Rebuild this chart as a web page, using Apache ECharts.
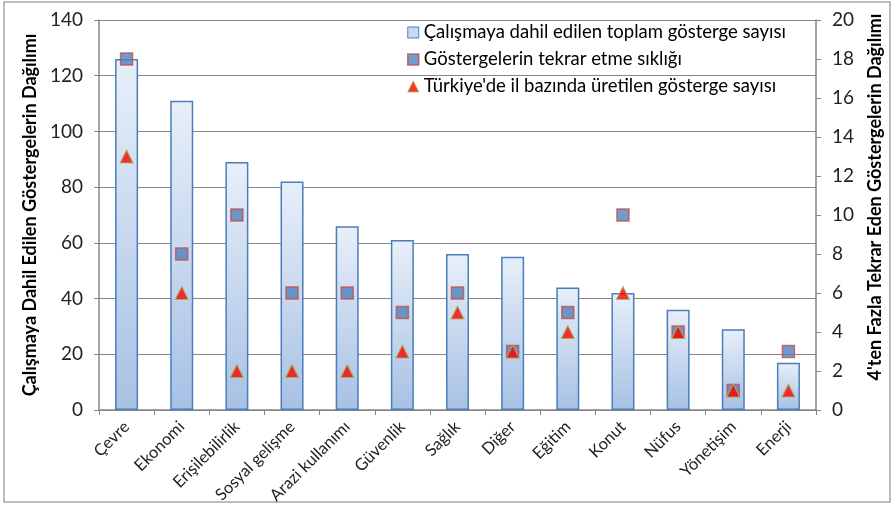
<!DOCTYPE html>
<html><head><meta charset="utf-8">
<script src="https://cdn.jsdelivr.net/npm/echarts@6/dist/echarts.min.js"></script>
<style>html,body{margin:0;padding:0;background:#fff}#c{width:896px;height:508px}</style>
</head><body><div id="c"></div>
<script>
const categories = ["Çevre","Ekonomi","Erişilebilirlik","Sosyal gelişme","Arazi kullanımı","Güvenlik","Sağlık","Diğer","Eğitim","Konut","Nüfus","Yönetişim","Enerji"];
const totalIndicators = [126,111,89,82,66,61,56,55,44,42,36,29,17];
const repeatFrequency = [18,8,10,6,6,5,6,3,5,10,4,1,3];
const provinceIndicators = [13,6,2,2,2,3,5,3,4,6,4,1,1];
const leftTicks = {min:0,max:140,interval:20};
const rightTicks = {min:0,max:20,interval:2};
const seriesNames = ["Çalışmaya dahil edilen toplam gösterge sayısı","Göstergelerin tekrar etme sıklığı","Türkiye'de il bazında üretilen gösterge sayısı"];

const font = 'Lato, "Open Sans", sans-serif';
const chart = echarts.init(document.getElementById('c'), null, {renderer:'canvas'});
chart.setOption({
  animation:false,
  textStyle:{fontFamily:font},
  graphic:[{type:'rect',shape:{x:4,y:2,width:886,height:500},style:{fill:null,stroke:'#a6a6a6',lineWidth:1.5},z:-10}],
  grid:{left:99,right:80,top:20,bottom:98,outerBoundsMode:'none',containLabel:false},
  legend:{
    orient:'vertical', left:407, top:23, itemGap:8, itemWidth:11, itemHeight:11,
    padding:0,
    textStyle:{fontFamily:font,fontSize:18.5,color:'#000'},
    data:[
      {name:seriesNames[0],icon:'rect',itemStyle:{color:'#c6d9f1',borderColor:'#4f81bd',borderWidth:1}},
      {name:seriesNames[1],icon:'rect',itemStyle:{color:'#4f81bd',borderColor:'#c0504d',borderWidth:1.5}},
      {name:seriesNames[2],icon:'triangle',itemStyle:{color:'#ff0000',borderColor:'#9bbb59',borderWidth:1}}
    ]
  },
  xAxis:{
    type:'category', data:categories, boundaryGap:true,
    axisLine:{lineStyle:{color:'#868686',width:1.5}},
    axisTick:{show:true,alignWithLabel:false,length:5,lineStyle:{color:'#868686'}},
    axisLabel:{rotate:45,fontSize:16.5,color:'#222',fontFamily:font,interval:0,margin:14}
  },
  yAxis:[
    {type:'value',min:leftTicks.min,max:leftTicks.max,interval:leftTicks.interval,
     name:'Çalışmaya Dahil Edilen Göstergelerin Dağılımı',nameLocation:'middle',nameGap:53,
     nameTextStyle:{fontFamily:font,fontSize:18,fontWeight:'bold',color:'#000'},
     axisLine:{show:true,lineStyle:{color:'#868686',width:1.5}},
     axisTick:{show:true,length:5,lineStyle:{color:'#868686'}},
     axisLabel:{fontSize:19,color:'#222',fontFamily:font,margin:16},
     splitLine:{show:true,lineStyle:{color:'#868686',width:1.2}}},
    {type:'value',min:rightTicks.min,max:rightTicks.max,interval:rightTicks.interval,position:'right',
     name:"4'ten Fazla Tekrar Eden Göstergelerin Dağılımı",nameLocation:'middle',nameGap:50,
     nameTextStyle:{fontFamily:font,fontSize:18,fontWeight:'bold',color:'#000',padding:[0,0,0,36]},
     axisLine:{show:true,lineStyle:{color:'#868686',width:1.5}},
     axisTick:{show:true,length:5,lineStyle:{color:'#868686'}},
     axisLabel:{fontSize:19,color:'#222',fontFamily:font,margin:16},
     splitLine:{show:false}}
  ],
  series:[
    {name:seriesNames[0],type:'bar',data:totalIndicators,yAxisIndex:0,barWidth:23,
     itemStyle:{borderColor:'#4a7ebb',borderWidth:1.5,
       color:new echarts.graphic.LinearGradient(0,0,0,1,[{offset:0,color:'#e8eff9'},{offset:1,color:'#a7c1e4'}])}},
    {name:seriesNames[1],type:'scatter',data:repeatFrequency,yAxisIndex:1,symbol:'rect',symbolSize:12,
     itemStyle:{color:'#4f81bd',borderColor:'#c0504d',borderWidth:1.5},z:3},
    {name:seriesNames[2],type:'scatter',data:provinceIndicators,yAxisIndex:1,symbol:'triangle',symbolSize:13,
     itemStyle:{color:'#ff0000',borderColor:'#9bbb59',borderWidth:1.2},z:4}
  ]
});
</script></body></html>
